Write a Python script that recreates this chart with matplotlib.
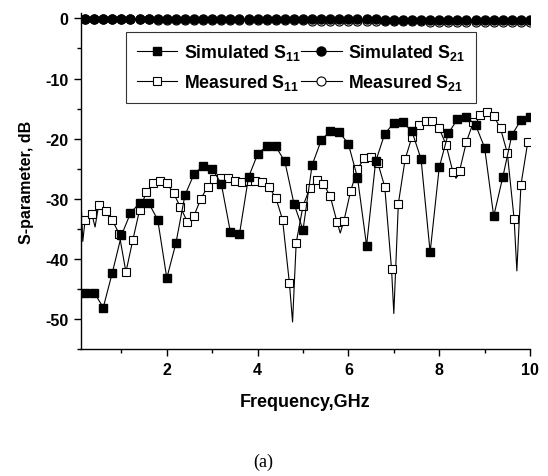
import numpy as np
import matplotlib
matplotlib.use("Agg")
import matplotlib.pyplot as plt

plt.rcParams["font.family"] = ["Liberation Sans", "DejaVu Sans"]
plt.rcParams["font.weight"] = "bold"
plt.rcParams["mathtext.fontset"] = "custom"
plt.rcParams["mathtext.rm"] = "Liberation Sans:bold"
plt.rcParams["mathtext.bf"] = "Liberation Sans:bold"
plt.rcParams["axes.unicode_minus"] = False

# simulated data, 0.2 GHz step
freq_sim = np.round(np.arange(0.2, 10.01, 0.2), 2)
s11_sim = [-45.6, -45.6, -48.1, -42.3, -36.1, -32.4, -30.7, -30.7, -33.5, -43.2,
           -37.4, -29.4, -25.9, -24.5, -25.0, -27.5, -35.5, -35.9, -26.4, -22.6,
           -21.2, -21.3, -23.8, -30.8, -35.2, -24.4, -20.3, -18.7, -18.9, -20.9,
           -26.5, -37.8, -23.8, -19.2, -17.4, -17.3, -18.8, -23.4, -38.9, -24.8,
           -19.1, -16.8, -16.4, -17.7, -21.5, -32.9, -26.4, -19.4, -16.9, -16.4]
s21_sim = [-0.05, -0.05, -0.05, -0.06, -0.06, -0.06, -0.07, -0.07, -0.07, -0.08,
           -0.08, -0.08, -0.09, -0.09, -0.10, -0.10, -0.10, -0.11, -0.11, -0.12,
           -0.12, -0.12, -0.13, -0.13, -0.14, -0.14, -0.15, -0.15, -0.15, -0.16,
           -0.16, -0.17, -0.17, -0.18, -0.18, -0.19, -0.19, -0.20, -0.20, -0.21,
           -0.21, -0.22, -0.22, -0.23, -0.23, -0.24, -0.24, -0.25, -0.25, -0.26]

# measured S11 marker points, 0.15 GHz step
freq_meas = np.round(np.arange(0.2, 10.0, 0.15), 2)
s11_meas = [-33.5, -32.6, -31.0, -32.0, -33.6, -35.8, -42.2, -36.9, -31.9, -28.9,
            -27.4, -27.0, -27.4, -29.1, -31.4, -33.8, -32.8, -30.0, -28.0, -26.7,
            -26.5, -26.5, -27.0, -27.2, -27.1, -27.1, -27.2, -28.1, -29.8, -33.5,
            -44.0, -37.3, -31.2, -28.2, -26.9, -27.5, -29.6, -33.9, -33.7, -28.7,
            -25.0, -23.3, -23.0, -24.1, -28.0, -41.7, -30.8, -23.4, -19.7, -17.8,
            -17.1, -17.1, -18.3, -21.0, -25.5, -25.3, -20.5, -17.3, -16.0, -15.6,
            -16.2, -18.3, -22.4, -33.4, -27.7, -20.6]
# extra measured points between markers (sharp resonances)
freq_meas_extra = [0.11, 0.15, 0.42, 4.77, 5.82, 7.00, 8.37, 9.71]
s11_meas_extra = [-30.3, -37.1, -34.7, -50.5, -35.7, -49.1, -26.6, -42.0]

freq_s21_meas = np.round(np.arange(0.2, 10.01, 0.2), 2)
s21_meas = [-0.10, -0.10, -0.12, -0.12, -0.14, -0.15, -0.15, -0.17, -0.18, -0.18,
            -0.20, -0.21, -0.22, -0.22, -0.24, -0.25, -0.26, -0.27, -0.28, -0.29,
            -0.30, -0.31, -0.32, -0.33, -0.34, -0.35, -0.37, -0.38, -0.39, -0.40,
            -0.42, -0.43, -0.44, -0.45, -0.47, -0.48, -0.49, -0.50, -0.52, -0.53,
            -0.54, -0.56, -0.57, -0.58, -0.60, -0.61, -0.62, -0.64, -0.65, -0.66]

# merge measured line points
f_all = np.concatenate([freq_meas, freq_meas_extra])
v_all = np.concatenate([s11_meas, s11_meas_extra])
is_mark = np.concatenate([np.ones(len(freq_meas), bool), np.zeros(len(freq_meas_extra), bool)])
order = np.argsort(f_all)
f_all, v_all, is_mark = f_all[order], v_all[order], is_mark[order]
mark_idx = list(np.where(is_mark)[0])

fig = plt.figure(figsize=(5.48, 4.77), dpi=100)
ax = fig.add_axes([0.1478, 0.2662, 0.8194, 0.7044])

lw = 0.8
h_ms11, = ax.plot(f_all, v_all, color="black", lw=lw, marker="s", ms=5.5,
                  mfc="white", mec="black", mew=0.8, markevery=mark_idx, zorder=2,
                  label=r"Measured S$_{11}$")
h_ss11, = ax.plot(freq_sim, s11_sim, color="black", lw=lw, marker="s", ms=5.5,
                  mfc="black", mec="black", zorder=3, label=r"Simulated S$_{11}$")
h_ms21, = ax.plot(freq_s21_meas, s21_meas, color="black", lw=lw, marker="o", ms=6.5,
                  mfc="white", mec="black", mew=0.8, zorder=2,
                  label=r"Measured S$_{21}$")
h_ss21, = ax.plot(freq_sim, s21_sim, color="black", lw=lw, marker="o", ms=6.5,
                  mfc="black", mec="black", zorder=3, label=r"Simulated S$_{21}$")

ax.set_xlim(0.11, 10)
ax.set_ylim(-55, 0.9)
ax.set_xticks([2, 4, 6, 8, 10])
ax.set_xticks([1, 3, 5, 7, 9], minor=True)
ax.set_yticks([0, -10, -20, -30, -40, -50])
ax.set_yticks([-5, -15, -25, -35, -45, -55], minor=True)
ax.tick_params(which="major", direction="out", length=5, width=1, labelsize=11.5, pad=4)
ax.tick_params(which="minor", direction="out", length=3, width=1)
for s in ["top", "right"]:
    ax.spines[s].set_visible(False)
for s in ["left", "bottom"]:
    ax.spines[s].set_linewidth(1)

ax.set_xlabel("Frequency,GHz", fontsize=13, fontweight="bold", labelpad=12)
ax.set_ylabel("S-parameter, dB", fontsize=11.5, fontweight="bold", labelpad=8)

leg = ax.legend([h_ss11, h_ms11, h_ss21, h_ms21],
                [h_ss11.get_label(), h_ms11.get_label(), h_ss21.get_label(), h_ms21.get_label()],
                ncol=2, loc="upper left", bbox_to_anchor=(0.1, 0.945),
                fontsize=12.8, frameon=True, fancybox=False, edgecolor="black",
                handlelength=2.3, handletextpad=0.35, columnspacing=0.0,
                borderpad=0.6, labelspacing=0.55, borderaxespad=0)
leg.get_frame().set_linewidth(0.8)

fig.text(0.48, 0.03, "(a)", fontsize=13, fontweight="normal",
         family=["Liberation Serif", "DejaVu Serif"], ha="center", va="center")

fig.savefig("out.png", dpi=100)
